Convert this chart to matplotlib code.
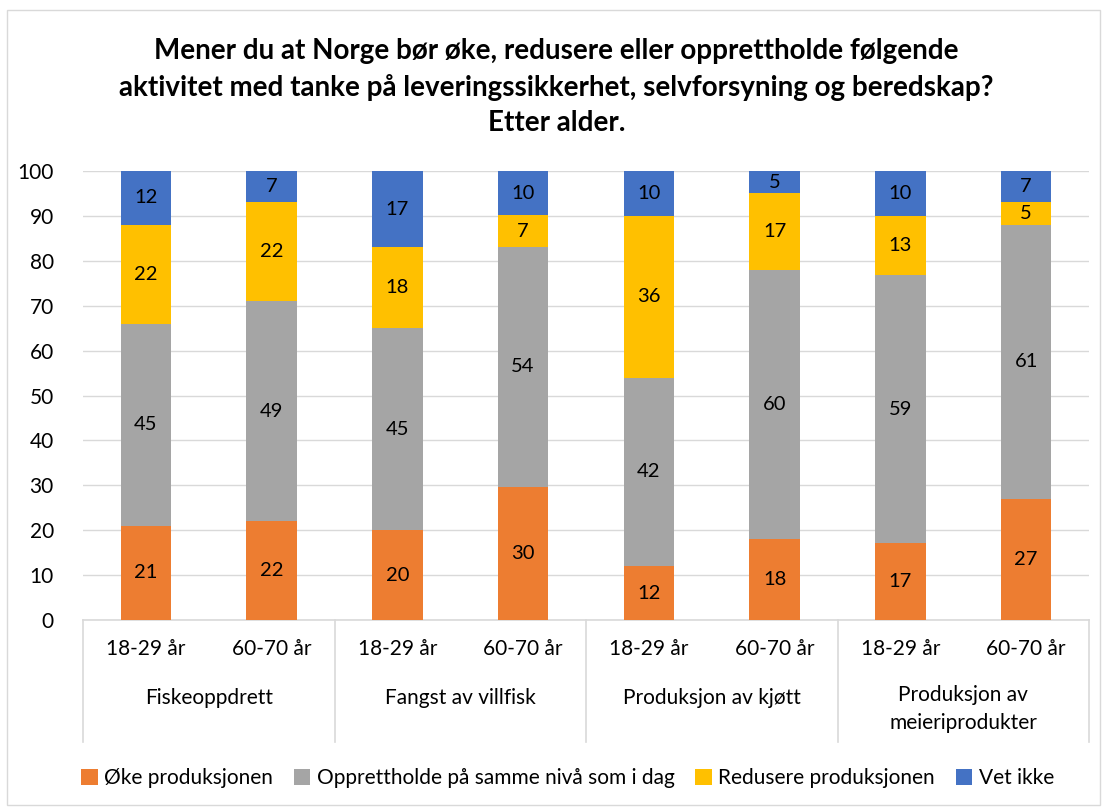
import matplotlib
matplotlib.use("Agg")
import matplotlib.pyplot as plt
from matplotlib.patches import Rectangle
from matplotlib.transforms import blended_transform_factory
import numpy as np

plt.rcParams['font.family'] = ['Lato', 'DejaVu Sans']

groups = ["Fiskeoppdrett", "Fangst av villfisk", "Produksjon av kjøtt",
          "Produksjon av\nmeieriprodukter"]
ages = ["18-29 år", "60-70 år"]
series = ["Øke produksjonen", "Opprettholde på samme nivå som i dag",
          "Redusere produksjonen", "Vet ikke"]
colors = ["#ED7D31", "#A5A5A5", "#FFC000", "#4472C4"]

oke = [21, 22, 20, 30, 12, 18, 17, 27]
opprettholde = [45, 49, 45, 54, 42, 60, 59, 61]
redusere = [22, 22, 18, 7, 36, 17, 13, 5]
vet_ikke = [12, 7, 17, 10, 10, 5, 10, 7]

title = ("Mener du at Norge bør øke, redusere eller opprettholde følgende\n"
         "aktivitet med tanke på leveringssikkerhet, selvforsyning og beredskap?\n"
         "Etter alder.")

W, H = 1102, 807
fig = plt.figure(figsize=(W / 100, H / 100), dpi=100)

# chart border
fig.patches.append(Rectangle((7 / W, 2 / H), 1093 / W, 795 / H, transform=fig.transFigure,
                             fill=False, edgecolor="#D9D9D9", linewidth=1.0))

ax = fig.add_axes([83 / W, 1 - 620 / H, (1089 - 83) / W, (620 - 171) / H])

# 100 % stacked: heights are each value's share of its column total
data = np.array([oke, opprettholde, redusere, vet_ikke], dtype=float)
pct = data / data.sum(axis=0) * 100
x = np.arange(data.shape[1])
bottom = np.zeros(data.shape[1])
for vals, raw, col, name in zip(pct, data, colors, series):
    ax.bar(x, vals, bottom=bottom, width=0.4, color=col, label=name, zorder=3)
    for xi, b, v, r in zip(x, bottom, vals, raw):
        ax.text(xi, b + v / 2, f"{int(r)}", ha="center", va="center",
                fontsize=14.5, color="black", zorder=4)
    bottom += vals

ax.set_xlim(-0.5, len(x) - 0.5)
ax.set_ylim(0, 100)
ax.set_yticks(np.arange(0, 101, 10))
ax.yaxis.grid(True, color="#D9D9D9", linewidth=1.0, zorder=0)
ax.tick_params(axis="y", length=0, pad=21, labelsize=15)
for s in ["left", "right", "top"]:
    ax.spines[s].set_visible(False)
ax.spines["bottom"].set_color("#D9D9D9")
ax.spines["bottom"].set_linewidth(1.2)

ax.set_xticks(x)
ax.set_xticklabels(ages * len(groups), fontsize=15)
ax.tick_params(axis="x", length=0, pad=14)

# two-level category axis: group separators and group names
trans = blended_transform_factory(ax.transData, ax.transAxes)
ax_h = (620 - 171)
for sep in np.arange(-0.5, len(x), 2):
    ax.plot([sep, sep], [0, -(742 - 620) / ax_h], transform=trans, color="#D9D9D9",
            linewidth=1.2, clip_on=False)
for gi, g in enumerate(groups):
    if "\n" in g:
        ax.text(gi * 2 + 0.5, -(685 - 620) / ax_h, g, transform=trans, ha="center",
                va="top", fontsize=15, linespacing=1.5)
    else:
        ax.text(gi * 2 + 0.5, -(698 - 620) / ax_h, g, transform=trans, ha="center",
                va="center", fontsize=15)

fig.text(0.505, 1 - 87 / H, title, ha="center", va="center", fontsize=20,
         fontweight="bold", linespacing=1.45)

handles, labels = ax.get_legend_handles_labels()
fig.legend(handles, labels, loc="center", bbox_to_anchor=(0.515, 1 - 778 / H), ncol=4,
           frameon=False, fontsize=15, handlelength=0.8, handleheight=0.8,
           handletextpad=0.3, columnspacing=1.0)

fig.savefig("out.png", dpi=100)
